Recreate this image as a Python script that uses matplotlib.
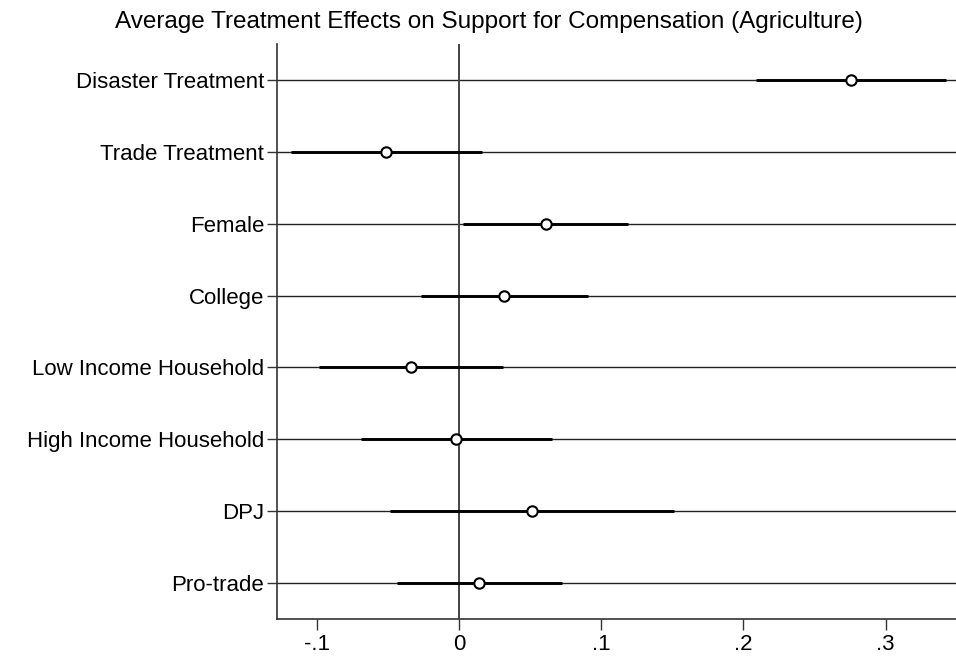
import matplotlib
matplotlib.use("Agg")
import matplotlib.pyplot as plt

plt.rcParams['font.family'] = ['Liberation Sans', 'DejaVu Sans']

# Coefficient estimates with 95% confidence intervals
categories = ["Disaster Treatment", "Trade Treatment", "Female", "College",
              "Low Income Household", "High Income Household", "DPJ", "Pro-trade"]
estimates = [0.2755, -0.0516, 0.0610, 0.0319, -0.0338, -0.0021, 0.0516, 0.0141]
ci_low = [0.2089, -0.1181, 0.0030, -0.0267, -0.0982, -0.0691, -0.0485, -0.0438]
ci_high = [0.3422, 0.0160, 0.1186, 0.0905, 0.0307, 0.0652, 0.1514, 0.0722]
xticks = [-0.1, 0, 0.1, 0.2, 0.3]
xtick_labels = ["-.1", "0", ".1", ".2", ".3"]

fig = plt.figure(figsize=(9.56, 6.58), dpi=100)
ax = fig.add_axes([0.2894, 0.0597, 0.7106, 0.873])

n = len(categories)
ypos = list(range(n, 0, -1))

# horizontal reference line for every coefficient
for y in ypos:
    ax.axhline(y, color="#222222", lw=1.0, zorder=1)
ax.axvline(0, color="#444444", lw=1.4, zorder=1)

for y, est, lo, hi in zip(ypos, estimates, ci_low, ci_high):
    ax.plot([lo, hi], [y, y], color="black", lw=2.1, solid_capstyle="butt", zorder=2)
    ax.plot(est, y, marker="o", ms=7.5, mfc="white", mec="black", mew=1.5, zorder=3)

ax.set_xlim(-0.1282, 0.3495)
ax.set_ylim(0.5, n + 0.5)
ax.set_yticks(ypos)
ax.set_yticklabels(categories, fontsize=16)
ax.set_xticks(xticks)
ax.set_xticklabels(xtick_labels, fontsize=16)

for side in ("top", "right"):
    ax.spines[side].set_visible(False)
for side in ("left", "bottom"):
    ax.spines[side].set_color("#333333")
    ax.spines[side].set_linewidth(1.2)
ax.tick_params(axis="y", length=7, width=1.0, color="#333333", pad=2)
ax.tick_params(axis="x", length=8, width=1.0, color="#333333", pad=3)

fig.suptitle("Average Treatment Effects on Support for Compensation (Agriculture)",
             fontsize=17.5, x=0.511, y=0.983, va="top")

fig.savefig("out.png", dpi=100)
